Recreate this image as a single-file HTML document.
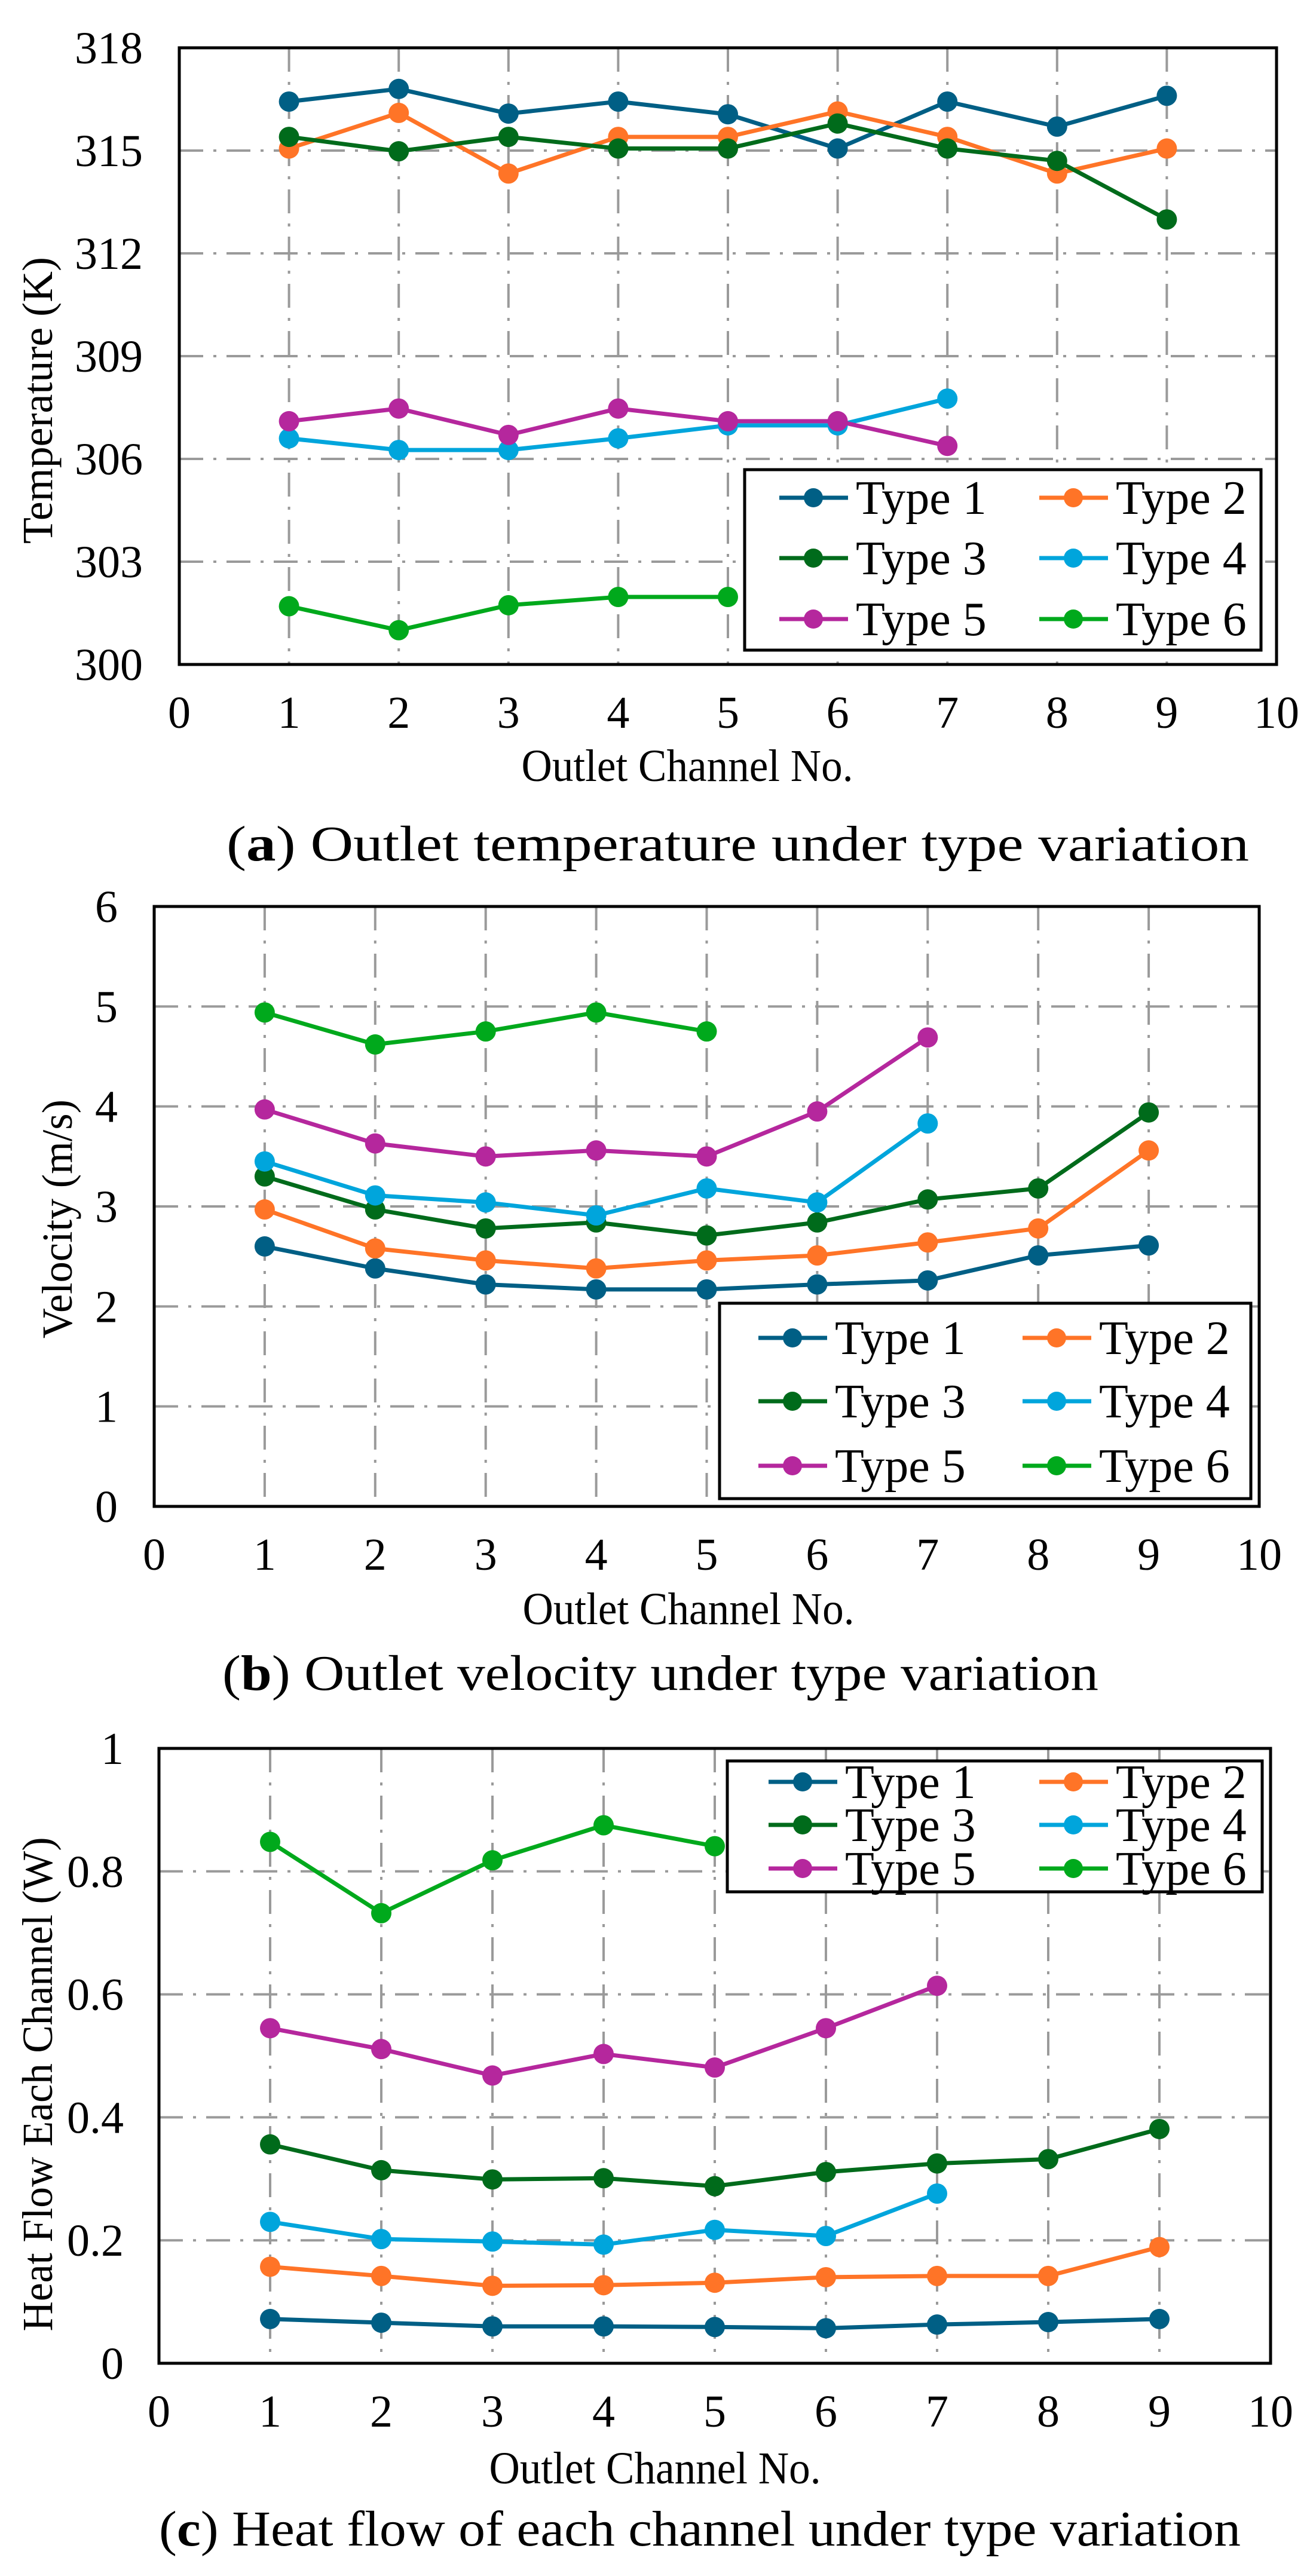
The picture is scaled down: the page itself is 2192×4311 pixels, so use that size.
<!DOCTYPE html>
<html><head><meta charset="utf-8"><style>
html,body{margin:0;padding:0;background:#fff;}
svg{display:block;}
text{font-family:"Liberation Serif",serif;fill:#000;}
</style></head>
<body>
<svg id="fig" width="2192" height="4311" viewBox="0 0 2192 4311" xmlns="http://www.w3.org/2000/svg"></svg>
<script>
// ---- shared ----
const channels = [1,2,3,4,5,6,7,8,9];
const seriesNames = ["Type 1","Type 2","Type 3","Type 4","Type 5","Type 6"];
const seriesColors = ["#005f85","#ff7427","#006b1b","#00a5dc","#b5279d","#00a91c"];
const xTicks = [0,1,2,3,4,5,6,7,8,9,10];

// ---- (a) temperature ----
const tempYTicks = [300,303,306,309,312,315,318];
const tempT1 = [316.43,316.8,316.08,316.43,316.06,315.06,316.43,315.7,316.6];
const tempT2 = [315.06,316.1,314.33,315.4,315.4,316.14,315.4,314.33,315.06];
const tempT3 = [315.4,314.98,315.4,315.06,315.06,315.79,315.06,314.7,312.99];
const tempT4 = [306.6,306.26,306.26,306.6,306.98,306.98,307.76];
const tempT5 = [307.1,307.47,306.7,307.47,307.1,307.1,306.38];
const tempT6 = [301.7,301.0,301.73,301.97,301.97];

// ---- (b) velocity ----
const velYTicks = [0,1,2,3,4,5,6];
const velT1 = [2.60,2.38,2.22,2.17,2.17,2.22,2.26,2.51,2.61];
const velT2 = [2.97,2.58,2.46,2.38,2.46,2.51,2.64,2.78,3.56];
const velT3 = [3.30,2.97,2.78,2.84,2.71,2.84,3.07,3.18,3.94];
const velT4 = [3.45,3.11,3.04,2.91,3.18,3.04,3.83];
const velT5 = [3.97,3.63,3.50,3.56,3.50,3.95,4.69];
const velT6 = [4.94,4.62,4.75,4.94,4.75];

// ---- (c) heat flow ----
const heatYTicks = [0,0.2,0.4,0.6,0.8,1];
const heatYLabels = ["0","0.2","0.4","0.6","0.8","1"];
const heatT1 = [0.072,0.066,0.060,0.060,0.059,0.057,0.063,0.067,0.072];
const heatT2 = [0.157,0.142,0.126,0.127,0.131,0.140,0.142,0.142,0.189];
const heatT3 = [0.356,0.314,0.299,0.301,0.288,0.311,0.325,0.332,0.381];
const heatT4 = [0.230,0.202,0.198,0.193,0.217,0.207,0.276];
const heatT5 = [0.545,0.511,0.468,0.503,0.481,0.545,0.614];
const heatT6 = [0.848,0.732,0.818,0.875,0.841];

const NS = "http://www.w3.org/2000/svg";
const svg = document.getElementById("fig");
function mk(tag, attrs, parent){
  const e = document.createElementNS(NS, tag);
  for (const k in attrs) e.setAttribute(k, attrs[k]);
  (parent||svg).appendChild(e);
  return e;
}

function drawChart(cfg){
  const g = mk("g", {});
  
  
  const L=cfg.left, R=cfg.right, T=cfg.top, B=cfg.bottom;
  const ymin=cfg.yTicks[0], ymax=cfg.yTicks[cfg.yTicks.length-1];
  const xs = v => L + (v - 0)/(10 - 0)*(R-L);
  const ys = v => B - (v - ymin)/(ymax-ymin)*(B-T);
  const grid = mk("g", {stroke:"#9a9a9a","stroke-width":4,"stroke-dasharray":"40 17 5 17",fill:"none"}, g);
  
  
  cfg.yTicks.forEach((t,i)=>{
    if(i===0||i===cfg.yTicks.length-1) return;
    const ln = mk("line",{x1:L,x2:R,y1:ys(t),y2:ys(t)},grid);
    
    
  });
  xTicks.forEach((t,i)=>{
    if(i===0||i===xTicks.length-1) return;
    const ln = mk("line",{x1:xs(t),x2:xs(t),y1:T,y2:B},grid);
    
    
  });
  cfg.series.forEach((vals,si)=>{
    const sg = mk("g",{},g);
    
    
    const pts = vals.map((v,i)=>xs(channels[i])+","+ys(v)).join(" ");
    const pl = mk("polyline",{points:pts,fill:"none",stroke:seriesColors[si],"stroke-width":7,"stroke-linejoin":"round"},sg);
    
    
    vals.forEach((v,i)=>{
      const c = mk("circle",{cx:xs(channels[i]),cy:ys(v),r:17,fill:seriesColors[si]},sg);
      
      
    });
  });
  const fr = mk("rect",{x:L,y:T,width:R-L,height:B-T,fill:"none",stroke:"#000","stroke-width":5},g);
  
  
  cfg.yTicks.forEach((t,i)=>{
    const tx = mk("text",{x:cfg.yLabelRight,y:ys(t)+26,"text-anchor":"end","font-size":76},g);
    tx.textContent = cfg.yLabels ? cfg.yLabels[i] : String(t);
    
    
  });
  xTicks.forEach(t=>{
    const tx = mk("text",{x:xs(t),y:cfg.xLabelY+26,"text-anchor":"middle","font-size":76},g);
    tx.textContent = String(t);
    
    
  });
  const xt = mk("text",{x:cfg.xTitleX,y:cfg.xTitleY+26,"text-anchor":"middle","font-size":76,textLength:555,lengthAdjust:"spacingAndGlyphs"},g);
  xt.textContent = "Outlet Channel No.";
  
  
  const yt = mk("text",{x:0,y:0,"text-anchor":"middle","font-size":72,textLength:cfg.yTitleLen,lengthAdjust:"spacingAndGlyphs",transform:"translate("+(cfg.yTitleX+24)+","+cfg.yTitleY+") rotate(-90)"},g);
  yt.textContent = cfg.yTitle;
  
  
  const lg = mk("g",{},g);
  
  
  const lb = mk("rect",{x:cfg.leg.x,y:cfg.leg.y,width:cfg.leg.w,height:cfg.leg.h,fill:"#fff",stroke:"#000","stroke-width":5},lg);
  
  
  seriesNames.forEach((nm,i)=>{
    const col = i%2, row = Math.floor(i/2);
    const lx = cfg.leg.cols[col], ly = cfg.leg.rows[row];
    const eg = mk("g",{},lg);
    
    
    mk("line",{x1:lx,x2:lx+115,y1:ly,y2:ly,stroke:seriesColors[i],"stroke-width":7},eg);
    mk("circle",{cx:lx+57,cy:ly,r:16,fill:seriesColors[i]},eg);
    const tx = mk("text",{x:lx+128,y:ly+27,"font-size":80},eg);
    tx.textContent = nm;
  });
  const cap = mk("text",{x:cfg.cap.x,y:cfg.cap.y,"font-size":84,textLength:cfg.cap.len,lengthAdjust:"spacingAndGlyphs"},g);
  
  
  const tsp1 = mk("tspan",{},cap); tsp1.textContent="(";
  const tsp2 = mk("tspan",{"font-weight":"bold"},cap); tsp2.textContent=cfg.cap.letter;
  const tsp3 = mk("tspan",{},cap); tsp3.textContent=") "+cfg.cap.text;
}

drawChart({
  name:"chart-a-temperature", left:300, right:2136, top:80, bottom:1112,
  yTicks:tempYTicks, yLabelRight:239, xLabelY:1192,
  xTitleX:1150, xTitleY:1281, yTitle:"Temperature (K)", yTitleX:63, yTitleY:670, yTitleLen:480,
  series:[tempT1,tempT2,tempT3,tempT4,tempT5,tempT6],
  leg:{x:1246,y:786,w:864,h:302,cols:[1304,1739],rows:[833,934,1036]},
  cap:{x:379,y:1440,len:1711,letter:"a",text:"Outlet temperature under type variation"}
});
drawChart({
  name:"chart-b-velocity", left:258, right:2107, top:1517, bottom:2521,
  yTicks:velYTicks, yLabelRight:197, xLabelY:2601,
  xTitleX:1152, xTitleY:2692, yTitle:"Velocity (m/s)", yTitleX:96, yTitleY:2040, yTitleLen:400,
  series:[velT1,velT2,velT3,velT4,velT5,velT6],
  leg:{x:1204,y:2181,w:889,h:327,cols:[1269,1711],rows:[2239,2345,2453]},
  cap:{x:372,y:2828,len:1466,letter:"b",text:"Outlet velocity under type variation"}
});
drawChart({
  name:"chart-c-heat-flow", left:266, right:2126, top:2926, bottom:3955,
  yTicks:heatYTicks, yLabels:heatYLabels, yLabelRight:207, xLabelY:4035,
  xTitleX:1096, xTitleY:4130, yTitle:"Heat Flow Each Channel (W)", yTitleX:63, yTitleY:3488, yTitleLen:827,
  series:[heatT1,heatT2,heatT3,heatT4,heatT5,heatT6],
  leg:{x:1217,y:2947,w:895,h:219,cols:[1286,1739],rows:[2982,3054,3127]},
  cap:{x:266,y:4260,len:1810,letter:"c",text:"Heat flow of each channel under type variation"}
});
</script>
</body></html>
